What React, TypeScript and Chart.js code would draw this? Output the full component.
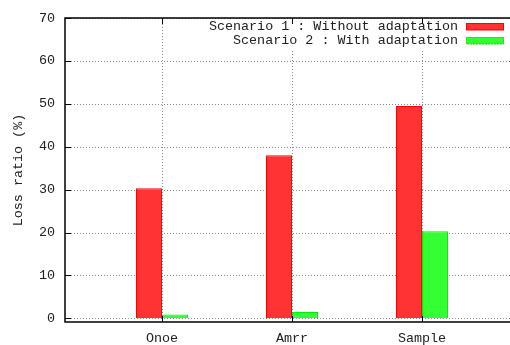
import React, { useEffect, useRef } from "react";
import { Chart, registerables } from "chart.js";

Chart.register(...registerables);

const categories = ["Onoe", "Amrr", "Sample"];
const withoutAdaptation = [30.3, 38.0, 49.5];
const withAdaptation = [0.9, 1.5, 20.3];
const seriesLabels = ["Scenario 1 : Without adaptation", "Scenario 2 : With adaptation"];
const yTicks = [0, 10, 20, 30, 40, 50, 60, 70];
const yTitle = "Loss ratio (%)";

const FONT = "Liberation Mono";
const FONT_SIZE = 13.4;

const gridPlugin = {
  id: "gnuplotGrid",
  beforeDatasetsDraw(chart: any) {
    const ctx = chart.ctx;
    const area = chart.chartArea;
    const xs = chart.scales.x;
    const ys = chart.scales.y;
    ctx.save();
    ctx.strokeStyle = "#888";
    ctx.lineWidth = 1;
    ctx.setLineDash([1, 2]);
    ctx.beginPath();
    yTicks.forEach((v) => {
      const y = Math.round(ys.getPixelForValue(v)) + 0.5;
      ctx.moveTo(area.left, y);
      ctx.lineTo(area.right + 2, y);
    });
    categories.forEach((_, i) => {
      const x = Math.round(xs.getPixelForValue(i)) + 0.5;
      ctx.moveTo(x, area.top);
      ctx.lineTo(x, area.bottom);
    });
    ctx.stroke();
    ctx.restore();
  },
};

const gnuplotPlugin = {
  id: "gnuplotDecor",
  afterDraw(chart: any) {
    const ctx = chart.ctx;
    const area = chart.chartArea;
    const xs = chart.scales.x;
    const ys = chart.scales.y;
    ctx.save();
    // key background
    ctx.fillStyle = "#fff";
    ctx.fillRect(204, area.top + 1, 306, 31);
    ctx.strokeStyle = "#000";
    ctx.lineWidth = 1.5;
    ctx.beginPath();
    ctx.moveTo(area.right + 2, area.top);
    ctx.lineTo(area.left, area.top);
    ctx.lineTo(area.left, area.bottom);
    ctx.lineTo(area.right + 2, area.bottom);
    ctx.stroke();
    ctx.lineWidth = 1;
    ctx.beginPath();
    yTicks.forEach((v) => {
      const y = Math.round(ys.getPixelForValue(v)) + 0.5;
      ctx.moveTo(area.left, y);
      ctx.lineTo(area.left + 6, y);
    });
    categories.forEach((_, i) => {
      const x = Math.round(xs.getPixelForValue(i)) + 0.5;
      ctx.moveTo(x, area.bottom);
      ctx.lineTo(x, area.bottom - 6);
      ctx.moveTo(x, area.top);
      ctx.lineTo(x, area.top + 6);
    });
    ctx.stroke();
    ctx.fillStyle = "#222";
    ctx.font = `${FONT_SIZE}px "${FONT}"`;
    ctx.textAlign = "center";
    ctx.textBaseline = "middle";
    ctx.translate(18, (area.top + area.bottom) / 2);
    ctx.rotate(-Math.PI / 2);
    ctx.fillText(yTitle, 0, 0);
    ctx.restore();

    ctx.save();
    ctx.font = `${FONT_SIZE}px "${FONT}"`;
    ctx.textAlign = "right";
    ctx.textBaseline = "middle";
    const fills = ["#ff3333", "#33ff33"];
    const strokes = ["#ff0000", "#00ee00"];
    chart.data.datasets.forEach((ds: any, i: number) => {
      const cy = 26.5 + i * 14;
      ctx.fillStyle = "#222";
      ctx.fillText(ds.label, 458, cy);
      ctx.fillStyle = fills[i];
      ctx.fillRect(466, cy - 3.5, 38, 7);
      ctx.strokeStyle = strokes[i];
      ctx.lineWidth = 1;
      ctx.setLineDash(i === 1 ? [2, 1] : []);
      ctx.strokeRect(466.5, cy - 3, 37, 6.5);
    });
    ctx.restore();
  },
};

export default function App() {
  const ref = useRef<HTMLCanvasElement>(null);
  useEffect(() => {
    document.body.style.margin = "0";
    document.body.style.overflow = "hidden";
    const chart = new Chart(ref.current!, {
      type: "bar",
      data: {
        datasets: [
          {
            label: seriesLabels[0],
            data: withoutAdaptation.map((v, i) => ({ x: i, y: v })),
            backgroundColor: "#ff3333",
            borderColor: "#ff0000",
            borderWidth: 1,
            categoryPercentage: 0.4,
            barPercentage: 1.0,
          },
          {
            label: seriesLabels[1],
            data: withAdaptation.map((v, i) => ({ x: i, y: v })),
            backgroundColor: "#33ff33",
            borderColor: "#00ee00",
            borderWidth: 1,
            categoryPercentage: 0.4,
            barPercentage: 1.0,
          },
        ] as any,
      },
      plugins: [gridPlugin, gnuplotPlugin],
      options: {
        animation: false,
        responsive: false,
        maintainAspectRatio: false,
        layout: { padding: { top: 16, right: 0, left: 0, bottom: 0 } },
        plugins: { legend: { display: false }, tooltip: { enabled: false } },
        scales: {
          x: {
            type: "linear",
            offset: false,
            min: -0.746,
            max: 2.677,
            afterBuildTicks: (s: any) => {
              s.ticks = categories.map((_, i) => ({ value: i }));
            },
            afterFit: (s: any) => {
              s.height = 23;
            },
            ticks: {
              callback: (v: any) => categories[v] ?? "",
              font: { family: FONT, size: FONT_SIZE },
              color: "#222",
              padding: 8,
              maxRotation: 0,
              autoSkip: false,
            },
            grid: { display: false, offset: false, drawTicks: false },
            border: { display: false },
          },
          y: {
            min: -0.85,
            max: 70,
            afterBuildTicks: (s: any) => {
              s.ticks = yTicks.map((v) => ({ value: v }));
            },
            afterFit: (s: any) => {
              s.width = 65;
            },
            ticks: {
              font: { family: FONT, size: FONT_SIZE },
              color: "#222",
              padding: 10,
            },
            grid: { display: false, drawTicks: false },
            border: { display: false },
          },
        },
      } as any,
    });
    return () => chart.destroy();
  }, []);
  return (
    <canvas
      ref={ref}
      width={510}
      height={345}
      style={{ position: "absolute", left: 0, top: 0, width: 510, height: 345 }}
    />
  );
}
